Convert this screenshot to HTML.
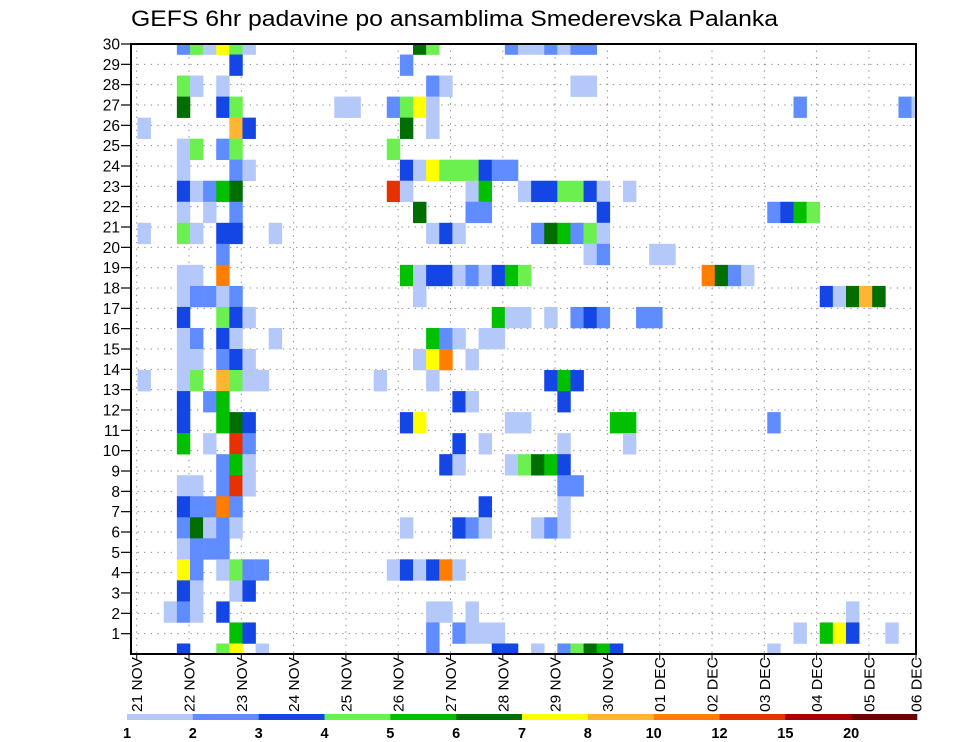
<!DOCTYPE html>
<html><head><meta charset="utf-8"><style>
html,body{margin:0;padding:0;background:#fff;}
svg{display:block;font-family:"Liberation Sans","DejaVu Sans",sans-serif;}
</style></head><body>
<svg id="chart" width="960" height="742" viewBox="0 0 960 742" xmlns="http://www.w3.org/2000/svg">
<rect x="0" y="0" width="960" height="742" fill="#fff"/>
<text x="131" y="26" font-size="22" textLength="647" lengthAdjust="spacingAndGlyphs" fill="#000">GEFS 6hr padavine po ansamblima Smederevska Palanka</text>
<defs><clipPath id="plotclip"><rect x="131" y="44" width="785" height="610"/></clipPath></defs>
<g id="grid"></g>
<g id="cells" clip-path="url(#plotclip)"></g>
<rect x="131" y="44" width="785" height="610" fill="none" stroke="#000" stroke-width="2"/>
<g id="yaxis"></g>
<g id="xaxis"></g>
<g id="legend"></g>
</svg>
<script>
// ---- data ----
const levelLabels = ["1","2","3","4","5","6","7","8","10","12","15","20"];
const levelColors = ["#b4c8fa","#5f8cff","#1446e6","#6cf050","#00c000","#006e00","#ffff00","#ffb432","#ff7d00","#e63200","#aa0000","#700000"];
const dayLabels = ["21 NOV","22 NOV","23 NOV","24 NOV","25 NOV","26 NOV","27 NOV","28 NOV","29 NOV","30 NOV","01 DEC","02 DEC","03 DEC","04 DEC","05 DEC","06 DEC"];
const memberTicks = [1,2,3,4,5,6,7,8,9,10,11,12,13,14,15,16,17,18,19,20,21,22,23,24,25,26,27,28,29,30];
// cell rows (0 = top member row), time step index (6h), precipitation value in mm
const cellRow = [];
const cellStep = [];
const cellValue = [];
const codeValue = {a:1.5,b:2.5,c:3.5,d:4.5,e:5.5,f:6.5,g:7.5,h:9,i:11,j:13.5,k:17,l:25};
const rowCells = [
"3b 4d 5a 6g 7d 8a 21f 22d 28b 29a 30a 31b 32a 33b 34b",
"7c 20b",
"3d 4a 6a 22b 23a 33a 34a",
"3f 6c 7d 15a 16a 19b 20d 21g 22a 50b 58b 59a",
"0a 7h 8c 20f 22a",
"3a 4d 6b 7d 19d",
"3a 7b 8a 20c 21a 22g 23d 24d 25d 26c 27b 28b",
"3c 4a 5b 6e 7f 19j 20a 25a 26e 29a 30c 31c 32d 33d 34c 35a 37a",
"3a 5a 7b 21f 25b 26b 35c 48b 49c 50e 51d",
"0a 3d 4a 6c 7c 10a 22a 23c 24a 30b 31f 32e 33b 34d 35a",
"6b 34a 35b 39a 40a",
"3a 4a 6i 20e 21a 22c 23c 24a 25b 26a 27c 28e 29d 43i 44f 45b 46a",
"3a 4b 5b 6a 7b 21a 52c 53a 54f 55h 56f",
"3c 6d 7c 8a 27e 28a 29a 31a 33b 34c 35b 38b 39b",
"3a 4b 6c 7a 10a 22e 23b 24a 26a 27a",
"3a 4a 6b 7c 8a 21a 22g 23i 25a",
"0a 3a 4d 6h 7d 8a 9a 18a 22a 31c 32e 33c",
"3c 5b 6e 24c 25a 32c",
"3c 6e 7f 8c 20c 21g 28a 29a 36e 37e 48b",
"3e 5a 7j 8b 24c 26a 32a 37a",
"6b 7e 8a 23c 24a 28a 29d 30f 31e 32c",
"3a 4a 6b 7j 8a 32b 33b",
"3c 4b 5b 6i 7b 26c 32a",
"3b 4f 5a 6b 7a 20a 24c 25b 26a 30a 31b 32a",
"3a 4b 5b 6b",
"3g 4b 6a 7d 8b 9b 19a 20c 21a 22c 23i 24a",
"3c 4a 7a 8c",
"2a 3b 4a 6c 22a 23a 25a 54a",
"7e 8c 22b 24b 25a 26a 27a 50a 52e 53g 54c 57a",
"3c 6d 7g 9a 22b 27c 28c 30a 32b 33d 34f 35e 36c 48a"
];
rowCells.forEach((s,r)=>s.split(" ").forEach(t=>{
  cellRow.push(r); cellStep.push(parseInt(t)); cellValue.push(codeValue[t.slice(-1)]);
}));

// ---- scales ----
const NS="http://www.w3.org/2000/svg";
const plotL=131, plotR=916, plotT=44, plotB=654;
const nRows=30;
const rowH=(plotB-plotT)/(nRows-1);
const stepW=13.12, x0=137.5, dayW=52.3, day0=136.7;
function xStep(i){return x0+stepW*i;}
function yRow(r){return plotT+r*rowH;}
function yMember(v){return plotB-v*(plotB-plotT)/30;}
function xDay(d){return Math.min(day0+dayW*d, plotR);}
function colorFor(v){
  const lv=levelLabels.map(Number); let k=-1;
  for(let j=0;j<lv.length;j++){ if(v>=lv[j]) k=j; }
  return k<0?null:levelColors[k];
}
function mk(tag,attrs,parent){const e=document.createElementNS(NS,tag);for(const a in attrs)e.setAttribute(a,attrs[a]);parent.appendChild(e);return e;}

// grid
const grid=document.getElementById('grid');
memberTicks.forEach(v=>{
  const l=mk('line',{x1:plotL,x2:plotR,y1:yMember(v),y2:yMember(v),stroke:'#888','stroke-width':1,'stroke-dasharray':'1.3,5.3'},grid);
  
  
});
dayLabels.forEach((d,k)=>{
  const l=mk('line',{x1:xDay(k),x2:xDay(k),y1:plotT,y2:plotB,stroke:'#888','stroke-width':1,'stroke-dasharray':'1.3,5.3'},grid);
  
  
});

// cells
const cells=document.getElementById('cells');
for(let n=0;n<cellValue.length;n++){
  const c=colorFor(cellValue[n]); if(!c) continue;
  const r=mk('rect',{x:xStep(cellStep[n]).toFixed(2),y:(yRow(cellRow[n])-rowH/2).toFixed(2),width:stepW+0.3,height:rowH+0.3,fill:c},cells);
  
  
}

// y axis
const ya=document.getElementById('yaxis');
memberTicks.forEach(v=>{
  const y=yMember(v);
  const t=mk('line',{x1:121,x2:plotL,y1:y,y2:y,stroke:'#000','stroke-width':1.2},ya);
  
  
  const tx=mk('text',{x:120,y:y+5.5,'font-size':15.5,'text-anchor':'end',fill:'#000'},ya);
  tx.textContent=v;
  
  
});

// x axis
const xa=document.getElementById('xaxis');
dayLabels.forEach((d,k)=>{
  const x=xDay(k);
  const t=mk('line',{x1:x,x2:x,y1:plotB,y2:plotB+6,stroke:'#000','stroke-width':1},xa);
  
  
  const tx=mk('text',{x:0,y:0,'font-size':15,'text-anchor':'end',fill:'#000',textLength:55,lengthAdjust:'spacingAndGlyphs',transform:`translate(${x+5.5},657) rotate(-90)`},xa);
  tx.textContent=d;
  
  
});

// legend
const lg=document.getElementById('legend');
const lgL=127, lgR=917, segW=(lgR-lgL)/levelColors.length;
levelColors.forEach((c,k)=>{
  const r=mk('rect',{x:lgL+k*segW,y:714,width:segW+0.3,height:6,fill:c},lg);
  
  
});
levelLabels.forEach((s,k)=>{
  const t=mk('text',{x:lgL+k*segW,y:738,'font-size':14.5,'font-weight':'bold','text-anchor':'middle',fill:'#000'},lg);
  t.textContent=s;
  
  
});
</script>
</body></html>
